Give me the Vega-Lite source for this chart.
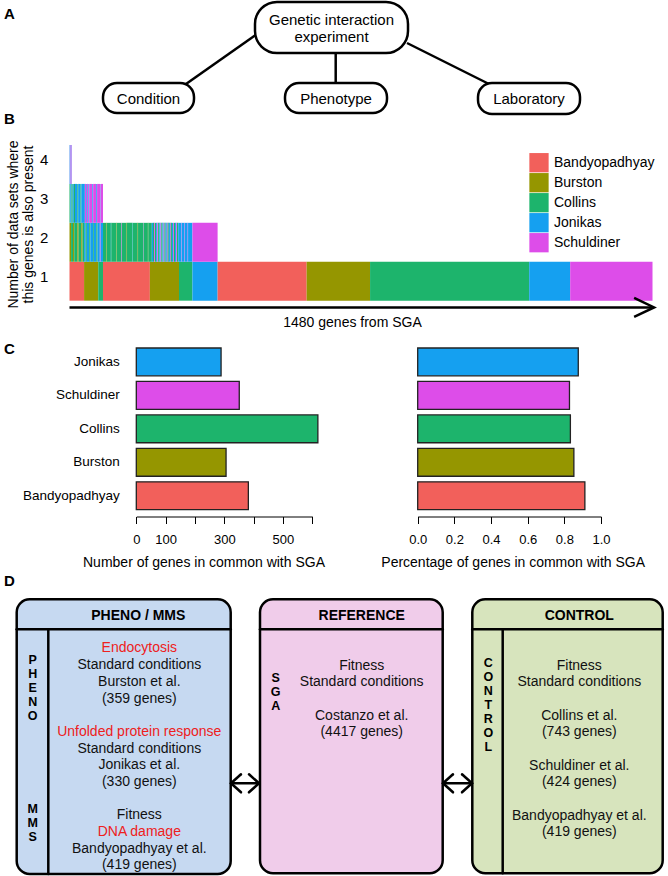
{
 "$schema": "https://vega.github.io/schema/vega-lite/v6.json",
 "padding": 0,
 "spacing": 0,
 "bounds": "flush",
 "background": "white",
 "resolve": {"scale": {"x": "independent", "y": "independent", "color": "independent", "fill": "independent"}, "legend": {"color": "independent", "fill": "independent"}},
 "config": {
  "font": "Liberation Sans",
  "view": {"stroke": null},
  "title": {"fontSize": 15, "fontWeight": "bold", "anchor": "start", "frame": "group", "offset": 0, "baseline": "middle", "color": "black", "font": "Liberation Sans"},
  "axis": {"labelColor": "black", "titleColor": "black", "titleFontWeight": "normal", "grid": false, "domainColor": "black", "tickColor": "black", "labelFont": "Liberation Sans", "titleFont": "Liberation Sans"},
  "legend": {"labelFont": "Liberation Sans", "labelColor": "black"}
 },
 "vconcat": [
  {
   "width": 668, "height": 120,
   "title": {"text": "A", "dx": 4, "dy": 26},
   "layer": [
    {
     "data": {"values": [
      {"x": 186, "y": 84, "x2": 257, "y2": 34},
      {"x": 335.7, "y": 53, "x2": 335.7, "y2": 83},
      {"x": 407, "y": 43, "x2": 489, "y2": 84}
     ]},
     "mark": {"type": "rule", "color": "black", "strokeWidth": 2.5},
     "encoding": {
      "x": {"field": "x", "type": "quantitative", "scale": {"domain": [0, 668], "nice": false, "zero": false}, "axis": null},
      "y": {"field": "y", "type": "quantitative", "scale": {"domain": [0, 120], "reverse": true, "nice": false, "zero": false}, "axis": null},
      "x2": {"field": "x2"}, "y2": {"field": "y2"}
     }
    },
    {
     "data": {"values": [{"node": "Genetic interaction experiment", "x0": 255, "x1": 408, "y0": 2, "y1": 53}]},
     "mark": {"type": "rect", "fill": "white", "stroke": "black", "strokeWidth": 2.5, "cornerRadius": 22},
     "encoding": {
      "x": {"field": "x0", "type": "quantitative", "scale": {"domain": [0, 668], "nice": false, "zero": false}, "axis": null},
      "y": {"field": "y0", "type": "quantitative", "scale": {"domain": [0, 120], "reverse": true, "nice": false, "zero": false}, "axis": null},
      "x2": {"field": "x1"}, "y2": {"field": "y1"}
     }
    },
    {
     "data": {"values": [
      {"node": "Condition", "x0": 103, "x1": 194, "y0": 83, "y1": 113},
      {"node": "Phenotype", "x0": 285, "x1": 387, "y0": 83, "y1": 113},
      {"node": "Laboratory", "x0": 478, "x1": 580, "y0": 83, "y1": 114}
     ]},
     "mark": {"type": "rect", "fill": "white", "stroke": "black", "strokeWidth": 2.5, "cornerRadius": 14},
     "encoding": {
      "x": {"field": "x0", "type": "quantitative", "scale": {"domain": [0, 668], "nice": false, "zero": false}, "axis": null},
      "y": {"field": "y0", "type": "quantitative", "scale": {"domain": [0, 120], "reverse": true, "nice": false, "zero": false}, "axis": null},
      "x2": {"field": "x1"}, "y2": {"field": "y1"}
     }
    },
    {
     "data": {"values": [
      {"t": "Genetic interaction", "x": 331.5, "y": 20},
      {"t": "experiment", "x": 331.5, "y": 37},
      {"t": "Condition", "x": 148.5, "y": 98.5},
      {"t": "Phenotype", "x": 336, "y": 98.5},
      {"t": "Laboratory", "x": 529, "y": 98.5}
     ]},
     "mark": {"type": "text", "fontSize": 15, "baseline": "middle", "align": "center", "color": "black"},
     "encoding": {
      "x": {"field": "x", "type": "quantitative", "scale": {"domain": [0, 668], "nice": false, "zero": false}, "axis": null},
      "y": {"field": "y", "type": "quantitative", "scale": {"domain": [0, 120], "reverse": true, "nice": false, "zero": false}, "axis": null},
      "text": {"field": "t"}
     }
    }
   ]
  },
  {
   "width": 668, "height": 215,
   "title": {"text": "B", "dx": 4, "dy": 11},
   "layer": [
    {
     "data": {"values": [
      {"from": 0, "to": 37, "level": 1, "set": "Bandyopadhyay"},
      {"from": 37, "to": 73, "level": 1, "set": "Burston"},
      {"from": 73, "to": 85, "level": 1, "set": "Collins"},
      {"from": 85, "to": 204, "level": 1, "set": "Bandyopadhyay"},
      {"from": 204, "to": 278, "level": 1, "set": "Burston"},
      {"from": 278, "to": 312, "level": 1, "set": "Collins"},
      {"from": 312, "to": 376, "level": 1, "set": "Jonikas"},
      {"from": 376, "to": 602, "level": 1, "set": "Bandyopadhyay"},
      {"from": 602, "to": 763, "level": 1, "set": "Burston"},
      {"from": 763, "to": 1167, "level": 1, "set": "Collins"},
      {"from": 1167, "to": 1271, "level": 1, "set": "Jonikas"},
      {"from": 1271, "to": 1480, "level": 1, "set": "Schuldiner"},

      {"from": 0, "to": 4, "level": 2, "set": "Burston"},
      {"from": 4, "to": 9, "level": 2, "set": "Collins"},
      {"from": 9, "to": 12, "level": 2, "set": "Burston"},
      {"from": 12, "to": 20, "level": 2, "set": "Collins"},
      {"from": 20, "to": 23, "level": 2, "set": "Burston"},
      {"from": 23, "to": 30, "level": 2, "set": "Collins"},
      {"from": 30, "to": 33, "level": 2, "set": "Burston"},
      {"from": 33, "to": 37, "level": 2, "set": "Collins"},
      {"from": 37, "to": 41, "level": 2, "set": "Jonikas"},
      {"from": 41, "to": 44, "level": 2, "set": "Collins"},
      {"from": 44, "to": 50, "level": 2, "set": "Jonikas"},
      {"from": 50, "to": 53, "level": 2, "set": "Collins"},
      {"from": 53, "to": 60, "level": 2, "set": "Jonikas"},
      {"from": 60, "to": 62, "level": 2, "set": "Collins"},
      {"from": 62, "to": 68, "level": 2, "set": "Jonikas"},
      {"from": 68, "to": 71, "level": 2, "set": "Collins"},
      {"from": 71, "to": 77, "level": 2, "set": "Jonikas"},
      {"from": 77, "to": 79, "level": 2, "set": "Schuldiner"},
      {"from": 79, "to": 85, "level": 2, "set": "Jonikas"},
      {"from": 85, "to": 94, "level": 2, "set": "Collins"},
      {"from": 94, "to": 95, "level": 2, "set": "Burston"},
      {"from": 95, "to": 105, "level": 2, "set": "Collins"},
      {"from": 105, "to": 106, "level": 2, "set": "Jonikas"},
      {"from": 106, "to": 119, "level": 2, "set": "Collins"},
      {"from": 119, "to": 120, "level": 2, "set": "Burston"},
      {"from": 120, "to": 132, "level": 2, "set": "Collins"},
      {"from": 132, "to": 133, "level": 2, "set": "Schuldiner"},
      {"from": 133, "to": 145, "level": 2, "set": "Collins"},
      {"from": 145, "to": 146, "level": 2, "set": "Burston"},
      {"from": 146, "to": 159, "level": 2, "set": "Collins"},
      {"from": 159, "to": 160, "level": 2, "set": "Jonikas"},
      {"from": 160, "to": 173, "level": 2, "set": "Collins"},
      {"from": 173, "to": 174, "level": 2, "set": "Burston"},
      {"from": 174, "to": 187, "level": 2, "set": "Collins"},
      {"from": 187, "to": 188, "level": 2, "set": "Schuldiner"},
      {"from": 188, "to": 199, "level": 2, "set": "Collins"},
      {"from": 199, "to": 200, "level": 2, "set": "Burston"},
      {"from": 200, "to": 209, "level": 2, "set": "Collins"},
      {"from": 209, "to": 212, "level": 2, "set": "Jonikas"},
      {"from": 212, "to": 215, "level": 2, "set": "Collins"},
      {"from": 215, "to": 217, "level": 2, "set": "Schuldiner"},
      {"from": 217, "to": 220, "level": 2, "set": "Collins"},
      {"from": 220, "to": 223, "level": 2, "set": "Jonikas"},
      {"from": 223, "to": 225, "level": 2, "set": "Schuldiner"},
      {"from": 225, "to": 228, "level": 2, "set": "Collins"},
      {"from": 228, "to": 231, "level": 2, "set": "Jonikas"},
      {"from": 231, "to": 233, "level": 2, "set": "Schuldiner"},
      {"from": 233, "to": 236, "level": 2, "set": "Collins"},
      {"from": 236, "to": 239, "level": 2, "set": "Jonikas"},
      {"from": 239, "to": 241, "level": 2, "set": "Schuldiner"},
      {"from": 241, "to": 244, "level": 2, "set": "Collins"},
      {"from": 244, "to": 247, "level": 2, "set": "Jonikas"},
      {"from": 247, "to": 249, "level": 2, "set": "Schuldiner"},
      {"from": 249, "to": 252, "level": 2, "set": "Collins"},
      {"from": 252, "to": 255, "level": 2, "set": "Jonikas"},
      {"from": 255, "to": 257, "level": 2, "set": "Schuldiner"},
      {"from": 257, "to": 260, "level": 2, "set": "Collins"},
      {"from": 260, "to": 263, "level": 2, "set": "Jonikas"},
      {"from": 263, "to": 265, "level": 2, "set": "Schuldiner"},
      {"from": 265, "to": 268, "level": 2, "set": "Collins"},
      {"from": 268, "to": 271, "level": 2, "set": "Jonikas"},
      {"from": 271, "to": 273, "level": 2, "set": "Schuldiner"},
      {"from": 273, "to": 276, "level": 2, "set": "Collins"},
      {"from": 276, "to": 284, "level": 2, "set": "Jonikas"},
      {"from": 284, "to": 285, "level": 2, "set": "Schuldiner"},
      {"from": 285, "to": 292, "level": 2, "set": "Jonikas"},
      {"from": 292, "to": 293, "level": 2, "set": "Schuldiner"},
      {"from": 293, "to": 300, "level": 2, "set": "Jonikas"},
      {"from": 300, "to": 301, "level": 2, "set": "Schuldiner"},
      {"from": 301, "to": 312, "level": 2, "set": "Jonikas"},
      {"from": 312, "to": 376, "level": 2, "set": "Schuldiner"},

      {"from": 0, "to": 2, "level": 3, "set": "Collins"},
      {"from": 2, "to": 5, "level": 3, "set": "Jonikas"},
      {"from": 5, "to": 8, "level": 3, "set": "Collins"},
      {"from": 8, "to": 11, "level": 3, "set": "Jonikas"},
      {"from": 11, "to": 14, "level": 3, "set": "Collins"},
      {"from": 14, "to": 20, "level": 3, "set": "Jonikas"},
      {"from": 20, "to": 22, "level": 3, "set": "Collins"},
      {"from": 22, "to": 28, "level": 3, "set": "Jonikas"},
      {"from": 28, "to": 30, "level": 3, "set": "Collins"},
      {"from": 30, "to": 39, "level": 3, "set": "Jonikas"},
      {"from": 39, "to": 42, "level": 3, "set": "Schuldiner"},
      {"from": 42, "to": 44, "level": 3, "set": "Jonikas"},
      {"from": 44, "to": 48, "level": 3, "set": "Schuldiner"},
      {"from": 48, "to": 50, "level": 3, "set": "Jonikas"},
      {"from": 50, "to": 58, "level": 3, "set": "Schuldiner"},
      {"from": 58, "to": 60, "level": 3, "set": "Jonikas"},
      {"from": 60, "to": 68, "level": 3, "set": "Schuldiner"},
      {"from": 68, "to": 70, "level": 3, "set": "Jonikas"},
      {"from": 70, "to": 78, "level": 3, "set": "Schuldiner"},
      {"from": 78, "to": 79, "level": 3, "set": "Jonikas"},
      {"from": 79, "to": 85, "level": 3, "set": "Schuldiner"},

      {"from": 0, "to": 1, "level": 4, "set": "Jonikas"},
      {"from": 1, "to": 2, "level": 4, "set": "Schuldiner"},
      {"from": 2, "to": 3, "level": 4, "set": "Jonikas"},
      {"from": 3, "to": 4, "level": 4, "set": "Schuldiner"},
      {"from": 4, "to": 5, "level": 4, "set": "Jonikas"},
      {"from": 5, "to": 6, "level": 4, "set": "Schuldiner"}
     ]},
     "mark": {"type": "rect"},
     "encoding": {
      "x": {"field": "from", "type": "quantitative",
            "scale": {"domain": [0, 1480], "range": [69.5, 652.5], "nice": false, "zero": false},
            "axis": {"domain": false, "ticks": false, "labels": false, "grid": false, "title": "1480 genes from SGA", "titleFontSize": 14, "titleX": 352, "titleY": -13, "titleBaseline": "middle", "titleAlign": "center"}},
      "x2": {"field": "to"},
      "y": {"field": "level", "type": "ordinal",
            "scale": {"domain": [4, 3, 2, 1, 0], "range": [25, 219.6], "paddingInner": 0, "paddingOuter": 0},
            "axis": {"labels": false, "domain": false, "ticks": false, "tickSize": 0, "offset": -49,
                     "title": ["Number of data sets where", "this genes is also present"], "titleFontSize": 14, "titleLineHeight": 15, "titleX": -36, "titleY": 104, "titleAngle": -90, "titleAlign": "center", "titleBaseline": "middle"}},
      "color": {"field": "set", "type": "nominal",
                "scale": {"domain": ["Bandyopadhyay", "Burston", "Collins", "Jonikas", "Schuldiner"], "range": ["#F2605B", "#959600", "#1DB46C", "#15A0F0", "#DD4DE9"]},
                "legend": {"orient": "none", "legendX": 529, "legendY": 32.7, "title": null, "symbolType": "square", "symbolSize": 372, "symbolStrokeWidth": 0, "symbolOpacity": 1, "labelFontSize": 14, "labelOffset": 5, "rowPadding": 0, "padding": 0}}
     }
    },
    {
     "data": {"values": [{"level": 4}, {"level": 3}, {"level": 2}, {"level": 1}]},
     "mark": {"type": "text", "fontSize": 15, "align": "center", "baseline": "middle", "dy": -4, "color": "black"},
     "encoding": {
      "x": {"datum": -64, "type": "quantitative"},
      "y": {"field": "level", "type": "ordinal"},
      "text": {"field": "level"}
     }
    },
    {
     "data": {"values": [{"from": 0, "to": 1484, "level": 0}]},
     "mark": {"type": "rule", "color": "black", "strokeWidth": 2.5},
     "encoding": {
      "x": {"field": "from", "type": "quantitative"},
      "x2": {"field": "to"},
      "y": {"field": "level", "type": "ordinal", "bandPosition": 0.175}
     }
    },
    {
     "data": {"values": [{"from": 0, "to": 1484, "level": 0}]},
     "mark": {"type": "point", "shape": "M-2.1,-1L0,0L-2.1,1", "filled": false, "color": "black", "strokeWidth": 2.5, "size": 361, "opacity": 1, "strokeJoin": "miter"},
     "encoding": {
      "x": {"field": "to", "type": "quantitative"},
      "y": {"field": "level", "type": "ordinal", "bandPosition": 0.175}
     }
    }
   ]
  },
  {
   "width": 668, "height": 245,
   "title": {"text": "C", "dx": 4, "dy": 26},
   "data": {"values": [
    {"lab": "Jonikas", "count": 289, "pct": 0.876},
    {"lab": "Schuldiner", "count": 351, "pct": 0.828},
    {"lab": "Collins", "count": 619, "pct": 0.833},
    {"lab": "Burston", "count": 306, "pct": 0.852},
    {"lab": "Bandyopadhyay", "count": 382, "pct": 0.912}
   ]},
   "encoding": {
    "y": {"field": "lab", "type": "nominal", "sort": ["Jonikas", "Schuldiner", "Collins", "Burston", "Bandyopadhyay"],
          "scale": {"range": [13, 174.7], "paddingInner": 0.168, "paddingOuter": 0},
          "axis": {"domain": false, "ticks": false, "tickSize": 0, "labelPadding": 0, "offset": -119.3, "labelFontSize": 13.5, "labelAlign": "right", "labelBaseline": "middle", "title": null}},
    "color": {"field": "lab", "type": "nominal",
              "scale": {"domain": ["Bandyopadhyay", "Burston", "Collins", "Jonikas", "Schuldiner"], "range": ["#F2605B", "#959600", "#1DB46C", "#15A0F0", "#DD4DE9"]},
              "legend": null}
   },
   "layer": [
    {
     "mark": {"type": "bar", "stroke": "#222222", "strokeWidth": 1.3},
     "encoding": {
      "x": {"field": "count", "type": "quantitative",
            "scale": {"domain": [0, 600], "range": [136.3, 312.3], "nice": false},
            "axis": {"orient": "bottom", "offset": -63.5, "values": [0, 100, 200, 300, 400, 500, 600], "tickSize": 7, "tickWidth": 1, "domainWidth": 1,
                     "labelFontSize": 13, "labelBaseline": "middle", "labelPadding": 16, "labelOverlap": false, "labelFlush": false,
                     "labelExpr": "datum.value == 200 || datum.value == 400 || datum.value == 600 ? '' : datum.label",
                     "title": "Number of genes in common with SGA", "titleFontSize": 14, "titleX": 203.5, "titleY": 46, "titleBaseline": "middle", "titleAlign": "center"}}
     }
    },
    {
     "mark": {"type": "bar", "stroke": "#222222", "strokeWidth": 1.3},
     "encoding": {
      "x": {"field": "pct", "type": "quantitative",
            "scale": {"domain": [0, 1], "range": [417.7, 601], "nice": false},
            "axis": {"orient": "bottom", "offset": -63.5, "values": [0, 0.2, 0.4, 0.6, 0.8, 1], "format": ".1f", "tickSize": 7, "tickWidth": 1, "domainWidth": 1,
                     "labelFontSize": 13, "labelBaseline": "middle", "labelPadding": 16, "labelOverlap": false, "labelFlush": false,
                     "title": "Percentage of genes in common with SGA", "titleFontSize": 14, "titleX": 512.7, "titleY": 46, "titleBaseline": "middle", "titleAlign": "center"}}
     }
    }
   ],
   "resolve": {"scale": {"x": "independent"}, "axis": {"x": "independent"}}
  },
  {
   "width": 668, "height": 296,
   "title": {"text": "D", "dx": 4, "dy": 13},
   "layer": [
    {
     "data": {"values": [
      {"box": "PHENO / MMS", "x0": 16.7, "x1": 230.7, "y0": 19.3, "y1": 294},
      {"box": "REFERENCE", "x0": 260, "x1": 442.7, "y0": 19.3, "y1": 293.3},
      {"box": "CONTROL", "x0": 472.3, "x1": 662.7, "y0": 19.3, "y1": 293.3}
     ]},
     "mark": {"type": "rect", "stroke": "black", "strokeWidth": 2.5, "cornerRadius": 13},
     "encoding": {
      "x": {"field": "x0", "type": "quantitative", "scale": {"domain": [0, 668], "nice": false, "zero": false}, "axis": null},
      "y": {"field": "y0", "type": "quantitative", "scale": {"domain": [0, 296], "reverse": true, "nice": false, "zero": false}, "axis": null},
      "x2": {"field": "x1"}, "y2": {"field": "y1"},
      "fill": {"field": "box", "type": "nominal", "scale": {"domain": ["PHENO / MMS", "REFERENCE", "CONTROL"], "range": ["#C6D9F1", "#F0CCEA", "#D7E4BD"]}, "legend": null}
     }
    },
    {
     "data": {"values": [
      {"x": 16.7, "y": 49.3, "x2": 230.7, "y2": 49.3},
      {"x": 260, "y": 49.3, "x2": 442.7, "y2": 49.3},
      {"x": 472.3, "y": 49.3, "x2": 662.7, "y2": 49.3},
      {"x": 48.3, "y": 49.3, "x2": 48.3, "y2": 294},
      {"x": 502.7, "y": 49.3, "x2": 502.7, "y2": 293.3},
      {"x": 231, "y": 203.3, "x2": 259, "y2": 203.3},
      {"x": 241, "y": 194.3, "x2": 231, "y2": 203.3},
      {"x": 231, "y": 203.3, "x2": 241, "y2": 212.3},
      {"x": 249, "y": 194.3, "x2": 259, "y2": 203.3},
      {"x": 259, "y": 203.3, "x2": 249, "y2": 212.3},
      {"x": 443, "y": 203.3, "x2": 472, "y2": 203.3},
      {"x": 453, "y": 194.3, "x2": 443, "y2": 203.3},
      {"x": 443, "y": 203.3, "x2": 453, "y2": 212.3},
      {"x": 462, "y": 194.3, "x2": 472, "y2": 203.3},
      {"x": 472, "y": 203.3, "x2": 462, "y2": 212.3}
     ]},
     "mark": {"type": "rule", "color": "black", "strokeWidth": 2.5, "strokeCap": "round"},
     "encoding": {
      "x": {"field": "x", "type": "quantitative", "scale": {"domain": [0, 668], "nice": false, "zero": false}, "axis": null},
      "y": {"field": "y", "type": "quantitative", "scale": {"domain": [0, 296], "reverse": true, "nice": false, "zero": false}, "axis": null},
      "x2": {"field": "x2"}, "y2": {"field": "y2"}
     }
    },
    {
     "data": {"values": [
      {"t": "PHENO / MMS", "x": 138.3, "y": 35.7},
      {"t": "REFERENCE", "x": 361.7, "y": 35.7},
      {"t": "CONTROL", "x": 579.3, "y": 35.7}
     ]},
     "mark": {"type": "text", "fontSize": 14, "fontWeight": "bold", "baseline": "middle", "align": "center", "color": "black"},
     "encoding": {
      "x": {"field": "x", "type": "quantitative", "scale": {"domain": [0, 668], "nice": false, "zero": false}, "axis": null},
      "y": {"field": "y", "type": "quantitative", "scale": {"domain": [0, 296], "reverse": true, "nice": false, "zero": false}, "axis": null},
      "text": {"field": "t"}
     }
    },
    {
     "data": {"values": [
      {"t": "Endocytosis", "x": 139.3, "y": 68.3, "kind": "phenotype"},
      {"t": "Standard conditions", "x": 139.3, "y": 85.3, "kind": "other"},
      {"t": "Burston et al.", "x": 139.3, "y": 102, "kind": "other"},
      {"t": "(359 genes)", "x": 139.3, "y": 119, "kind": "other"},
      {"t": "Unfolded protein response", "x": 139.3, "y": 152, "kind": "phenotype"},
      {"t": "Standard conditions", "x": 139.3, "y": 168.7, "kind": "other"},
      {"t": "Jonikas et al.", "x": 139.3, "y": 185.3, "kind": "other"},
      {"t": "(330 genes)", "x": 139.3, "y": 202, "kind": "other"},
      {"t": "Fitness", "x": 139.3, "y": 235.3, "kind": "other"},
      {"t": "DNA damage", "x": 139.3, "y": 252, "kind": "phenotype"},
      {"t": "Bandyopadhyay et al.", "x": 139.3, "y": 268.7, "kind": "other"},
      {"t": "(419 genes)", "x": 139.3, "y": 285.3, "kind": "other"},
      {"t": "Fitness", "x": 361.7, "y": 85.7, "kind": "other"},
      {"t": "Standard conditions", "x": 361.7, "y": 102.3, "kind": "other"},
      {"t": "Costanzo et al.", "x": 361.7, "y": 135.7, "kind": "other"},
      {"t": "(4417 genes)", "x": 361.7, "y": 152.3, "kind": "other"},
      {"t": "Fitness", "x": 579.3, "y": 85.7, "kind": "other"},
      {"t": "Standard conditions", "x": 579.3, "y": 102.3, "kind": "other"},
      {"t": "Collins et al.", "x": 579.3, "y": 135.7, "kind": "other"},
      {"t": "(743 genes)", "x": 579.3, "y": 152.3, "kind": "other"},
      {"t": "Schuldiner et al.", "x": 579.3, "y": 185.7, "kind": "other"},
      {"t": "(424 genes)", "x": 579.3, "y": 202.3, "kind": "other"},
      {"t": "Bandyopadhyay et al.", "x": 579.3, "y": 235.7, "kind": "other"},
      {"t": "(419 genes)", "x": 579.3, "y": 252.3, "kind": "other"}
     ]},
     "mark": {"type": "text", "fontSize": 14, "baseline": "middle", "align": "center"},
     "encoding": {
      "x": {"field": "x", "type": "quantitative", "scale": {"domain": [0, 668], "nice": false, "zero": false}, "axis": null},
      "y": {"field": "y", "type": "quantitative", "scale": {"domain": [0, 296], "reverse": true, "nice": false, "zero": false}, "axis": null},
      "text": {"field": "t"},
      "color": {"field": "kind", "type": "nominal", "scale": {"domain": ["phenotype", "other"], "range": ["#EE2020", "#111111"]}, "legend": null}
     }
    },
    {
     "data": {"values": [
      {"t": ["P", "H", "E", "N", "O"], "x": 32.7, "y": 83.5},
      {"t": ["M", "M", "S"], "x": 32.7, "y": 232.5},
      {"t": ["S", "G", "A"], "x": 275.7, "y": 101.5},
      {"t": ["C", "O", "N", "T", "R", "O", "L"], "x": 488.3, "y": 86.5}
     ]},
     "mark": {"type": "text", "fontSize": 12.5, "fontWeight": "bold", "baseline": "alphabetic", "align": "center", "lineHeight": 14, "color": "black"},
     "encoding": {
      "x": {"field": "x", "type": "quantitative", "scale": {"domain": [0, 668], "nice": false, "zero": false}, "axis": null},
      "y": {"field": "y", "type": "quantitative", "scale": {"domain": [0, 296], "reverse": true, "nice": false, "zero": false}, "axis": null},
      "text": {"field": "t"}
     }
    }
   ]
  }
 ]
}
